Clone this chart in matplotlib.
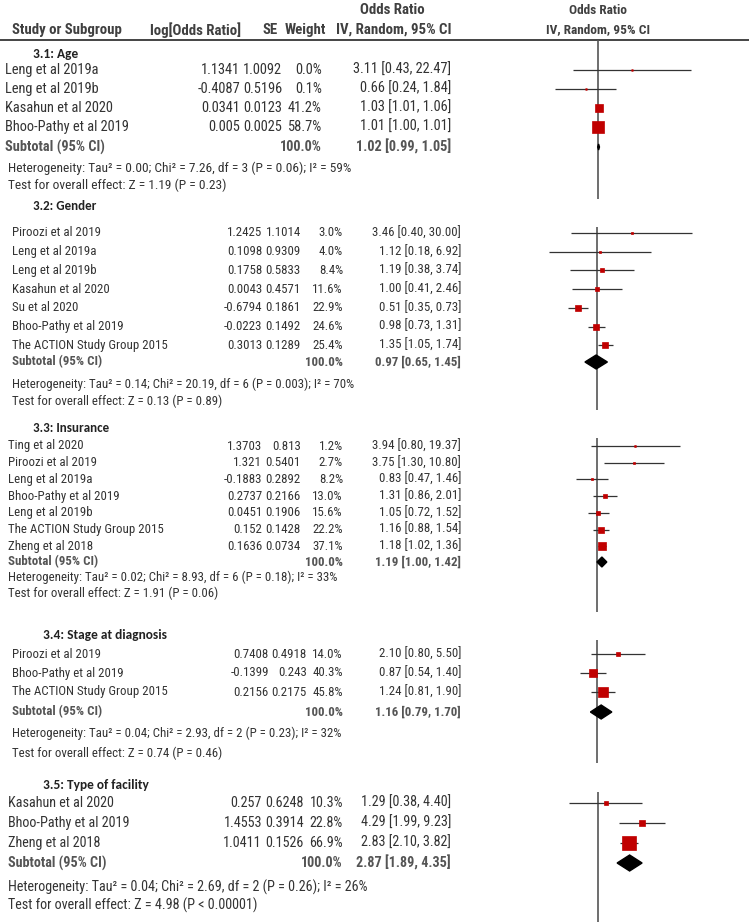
import numpy as np
import matplotlib
matplotlib.use("Agg")
import matplotlib.pyplot as plt
from matplotlib import font_manager

# ---- data ----
age_label = "3.1: Age"
age_studies = ["Leng et al 2019a", "Leng et al 2019b", "Kasahun et al 2020", "Bhoo-Pathy et al 2019"]
age_logor = [1.1341, -0.4087, 0.0341, 0.005]
age_se = [1.0092, 0.5196, 0.0123, 0.0025]
age_weight = [0.0, 0.1, 41.2, 58.7]
age_or = [3.11, 0.66, 1.03, 1.01]
age_lo = [0.43, 0.24, 1.01, 1.00]
age_hi = [22.47, 1.84, 1.06, 1.01]
age_total = [1.02, 0.99, 1.05]
age_het = "Heterogeneity: Tau² = 0.00; Chi² = 7.26, df = 3 (P = 0.06); I² = 59%"
age_test = "Test for overall effect: Z = 1.19 (P = 0.23)"

gender_label = "3.2: Gender"
gender_studies = ["Piroozi et al 2019", "Leng et al 2019a", "Leng et al 2019b", "Kasahun et al 2020",
                  "Su et al 2020", "Bhoo-Pathy et al 2019", "The ACTION Study Group 2015"]
gender_logor = [1.2425, 0.1098, 0.1758, 0.0043, -0.6794, -0.0223, 0.3013]
gender_se = [1.1014, 0.9309, 0.5833, 0.4571, 0.1861, 0.1492, 0.1289]
gender_weight = [3.0, 4.0, 8.4, 11.6, 22.9, 24.6, 25.4]
gender_or = [3.46, 1.12, 1.19, 1.00, 0.51, 0.98, 1.35]
gender_lo = [0.40, 0.18, 0.38, 0.41, 0.35, 0.73, 1.05]
gender_hi = [30.00, 6.92, 3.74, 2.46, 0.73, 1.31, 1.74]
gender_total = [0.97, 0.65, 1.45]
gender_het = "Heterogeneity: Tau² = 0.14; Chi² = 20.19, df = 6 (P = 0.003); I² = 70%"
gender_test = "Test for overall effect: Z = 0.13 (P = 0.89)"

ins_label = "3.3: Insurance"
ins_studies = ["Ting et al 2020", "Piroozi et al 2019", "Leng et al 2019a", "Bhoo-Pathy et al 2019",
               "Leng et al 2019b", "The ACTION Study Group 2015", "Zheng et al 2018"]
ins_logor = [1.3703, 1.321, -0.1883, 0.2737, 0.0451, 0.152, 0.1636]
ins_se = [0.813, 0.5401, 0.2892, 0.2166, 0.1906, 0.1428, 0.0734]
ins_weight = [1.2, 2.7, 8.2, 13.0, 15.6, 22.2, 37.1]
ins_or = [3.94, 3.75, 0.83, 1.31, 1.05, 1.16, 1.18]
ins_lo = [0.80, 1.30, 0.47, 0.86, 0.72, 0.88, 1.02]
ins_hi = [19.37, 10.80, 1.46, 2.01, 1.52, 1.54, 1.36]
ins_total = [1.19, 1.00, 1.42]
ins_het = "Heterogeneity: Tau² = 0.02; Chi² = 8.93, df = 6 (P = 0.18); I² = 33%"
ins_test = "Test for overall effect: Z = 1.91 (P = 0.06)"

stage_label = "3.4: Stage at diagnosis"
stage_studies = ["Piroozi et al 2019", "Bhoo-Pathy et al 2019", "The ACTION Study Group 2015"]
stage_logor = [0.7408, -0.1399, 0.2156]
stage_se = [0.4918, 0.243, 0.2175]
stage_weight = [14.0, 40.3, 45.8]
stage_or = [2.10, 0.87, 1.24]
stage_lo = [0.80, 0.54, 0.81]
stage_hi = [5.50, 1.40, 1.90]
stage_total = [1.16, 0.79, 1.70]
stage_het = "Heterogeneity: Tau² = 0.04; Chi² = 2.93, df = 2 (P = 0.23); I² = 32%"
stage_test = "Test for overall effect: Z = 0.74 (P = 0.46)"

fac_label = "3.5: Type of facility"
fac_studies = ["Kasahun et al 2020", "Bhoo-Pathy et al 2019", "Zheng et al 2018"]
fac_logor = [0.257, 1.4553, 1.0411]
fac_se = [0.6248, 0.3914, 0.1526]
fac_weight = [10.3, 22.8, 66.9]
fac_or = [1.29, 4.29, 2.83]
fac_lo = [0.38, 1.99, 2.10]
fac_hi = [4.40, 9.23, 3.82]
fac_total = [2.87, 1.89, 4.35]
fac_het = "Heterogeneity: Tau² = 0.04; Chi² = 2.69, df = 2 (P = 0.26); I² = 26%"
fac_test = "Test for overall effect: Z = 4.98 (P < 0.00001)"

subtotal_weight = 100.0

groups = [
    (age_label, age_studies, age_logor, age_se, age_weight, age_or, age_lo, age_hi, age_total, age_het, age_test),
    (gender_label, gender_studies, gender_logor, gender_se, gender_weight, gender_or, gender_lo, gender_hi,
     gender_total, gender_het, gender_test),
    (ins_label, ins_studies, ins_logor, ins_se, ins_weight, ins_or, ins_lo, ins_hi, ins_total, ins_het, ins_test),
    (stage_label, stage_studies, stage_logor, stage_se, stage_weight, stage_or, stage_lo, stage_hi,
     stage_total, stage_het, stage_test),
    (fac_label, fac_studies, fac_logor, fac_se, fac_weight, fac_or, fac_lo, fac_hi, fac_total, fac_het, fac_test),
]

# ---- layout of each pasted panel (pixel rows / columns) ----
# fs: study rows, hfs: heterogeneity / test lines, lfs: subgroup label
layouts = [
    dict(lab=54, lx=33, row0=70, step=19.0, sub=147, het=168, test=185, vtop=40, vbot=199,
         nx=5, hx=8, cols=(240, 282, 322, 451), fs=10.4, hfs=9.6, lfs=9.6,
         scale=30, cx=598, dh=3),
    dict(lab=206, lx=33, row0=233, step=18.7, sub=362, het=384, test=401, vtop=227, vbot=410,
         nx=12, hx=12, cols=(262, 301, 343, 461), fs=9.3, hfs=9.3, lfs=9.4,
         scale=28, cx=597, dh=7),
    dict(lab=428, lx=33, row0=446, step=16.7, sub=562, het=577, test=593, vtop=438, vbot=612,
         nx=8, hx=8, cols=(262, 301, 343, 461), fs=9.3, hfs=9.3, lfs=9.4,
         scale=28, cx=597, dh=5),
    dict(lab=635, lx=43, row0=654, step=19.0, sub=712, het=733, test=753, vtop=640, vbot=763,
         nx=12, hx=12, cols=(269, 307, 343, 461), fs=9.3, hfs=9.3, lfs=9.6,
         scale=28, cx=597, dh=7),
    dict(lab=785, lx=43, row0=803, step=20.0, sub=863, het=887, test=905, vtop=792, vbot=922,
         nx=8, hx=8, cols=(262, 304, 343, 451), fs=10.2, hfs=10.2, lfs=9.6,
         scale=30, cx=598, dh=8),
]

W, H = 749, 924
avail = {f.name for f in font_manager.fontManager.ttflist}
narrow = [f for f in ["Liberation Sans Narrow", "Roboto Condensed", "Liberation Sans"] if f in avail]
plt.rcParams["font.family"] = narrow[:1] + ["DejaVu Sans"]
label_font = [f for f in ["Carlito", "Lato", "Open Sans"] if f in avail][:1] + ["DejaVu Sans"]

txt = "#333333"
sub_c = "#555555"
head_c = "#404040"
red = "#c00000"

fig = plt.figure(figsize=(W / 100, H / 100), dpi=100)
ax = fig.add_axes([0, 0, 1, 1])
ax.set_xlim(0, W)
ax.set_ylim(H, 0)
ax.axis("off")

# header
lh = 10.7
rh = 9.6
ax.text(392, 10, "Odds Ratio", ha="center", va="center", fontsize=lh, fontweight="bold", color=head_c)
ax.text(598, 10, "Odds Ratio", ha="center", va="center", fontsize=rh, fontweight="bold", color=head_c)
ax.text(12, 30, "Study or Subgroup", ha="left", va="center", fontsize=lh, fontweight="bold", color=head_c)
ax.text(241, 30, "log[Odds Ratio]", ha="right", va="center", fontsize=lh, fontweight="bold", color=head_c)
ax.text(278, 30, "SE", ha="right", va="center", fontsize=lh, fontweight="bold", color=head_c)
ax.text(326, 30, "Weight", ha="right", va="center", fontsize=lh, fontweight="bold", color=head_c)
ax.text(451, 30, "IV, Random, 95% CI", ha="right", va="center", fontsize=lh, fontweight="bold", color=head_c)
ax.text(598, 30, "IV, Random, 95% CI", ha="center", va="center", fontsize=rh, fontweight="bold", color=head_c)
ax.plot([0, W], [40, 40], color="#444444", lw=1.4)

x0 = 440
for g, L in zip(groups, layouts):
    label, studies, logor, se, weight, orv, lo, hi, total, het, test = g
    fs = L["fs"]
    c1, c2, c3, c4 = L["cols"]
    ax.text(L["lx"], L["lab"], label, ha="left", va="center", fontsize=L["lfs"],
            fontweight="bold", color="#222222", family=label_font)
    ys = L["row0"] + L["step"] * np.arange(len(studies))
    for i, y in enumerate(ys):
        ax.text(L["nx"], y, studies[i], ha="left", va="center", fontsize=fs, color=txt)
        ax.text(c1, y, str(logor[i]), ha="right", va="center", fontsize=fs, color=txt)
        ax.text(c2, y, str(se[i]), ha="right", va="center", fontsize=fs, color=txt)
        ax.text(c3, y, f"{weight[i]:.1f}%", ha="right", va="center", fontsize=fs, color=txt)
        ax.text(c4, y, f"{orv[i]:.2f} [{lo[i]:.2f}, {hi[i]:.2f}]", ha="right", va="center",
                fontsize=fs, color=txt)
    ax.text(L["nx"], L["sub"], "Subtotal (95% CI)", ha="left", va="center", fontsize=fs,
            fontweight="bold", color=sub_c)
    ax.text(c3, L["sub"], f"{subtotal_weight:.1f}%", ha="right", va="center", fontsize=fs,
            fontweight="bold", color=sub_c)
    ax.text(c4, L["sub"], f"{total[0]:.2f} [{total[1]:.2f}, {total[2]:.2f}]", ha="right",
            va="center", fontsize=fs, fontweight="bold", color=sub_c)
    ax.text(L["hx"], L["het"], het, ha="left", va="center", fontsize=L["hfs"], color=txt)
    ax.text(L["hx"], L["test"], test, ha="left", va="center", fontsize=L["hfs"], color=txt)

    # forest part of this panel, log odds-ratio axis
    fa = fig.add_axes([x0 / W, 0, (W - x0) / W, 1])
    fa.patch.set_alpha(0)
    fa.set_xscale("log")
    fa.set_xlim(np.exp(-(L["cx"] - x0) / L["scale"]), np.exp((W - L["cx"]) / L["scale"]))
    fa.set_ylim(H, 0)
    fa.axis("off")
    fa.vlines(1, L["vtop"], L["vbot"], color="#555555", lw=1.2, zorder=1)
    fa.hlines(ys, lo, hi, color="#333333", lw=0.9, zorder=2)
    for i, y in enumerate(ys):
        side = (1.5 + 0.18 * weight[i]) * 0.72
        fa.plot(orv[i], y, "s", ms=side, color=red, mec=red, mew=0.5, zorder=3)
    est, tlo, thi = total
    d = L["dh"]
    fa.fill([tlo, est, thi, est], [L["sub"], L["sub"] - d, L["sub"], L["sub"] + d],
            color="black", zorder=4)

fig.savefig("out.png", dpi=100)
